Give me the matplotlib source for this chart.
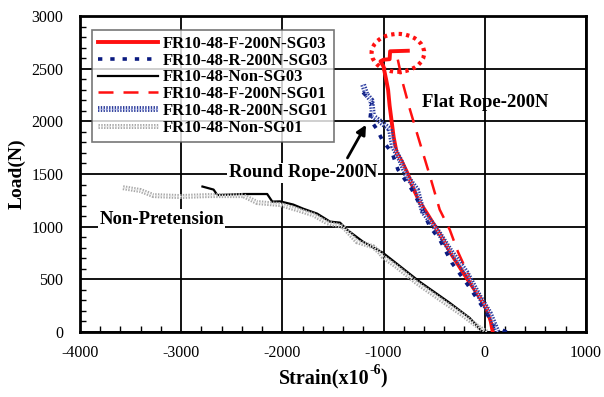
import matplotlib
matplotlib.use("Agg")
import matplotlib.pyplot as plt
import matplotlib.patheffects as pe
from matplotlib.patches import Ellipse
from matplotlib.ticker import MultipleLocator

# ---- data (strain x1e-6, load N) ----
f_sg03_x = [80, 60, 20, -50, -120, -170, -250, -330, -420, -490, -560, -640, -700, -760,
            -820, -870, -900, -920, -940, -955, -975, -990, -1000, -1030, -1000, -940, -935, -760]
f_sg03_y = [0, 100, 220, 330, 430, 500, 620, 740, 890, 1000, 1110, 1230, 1350, 1500,
            1620, 1700, 1850, 2000, 2150, 2300, 2400, 2470, 2520, 2570, 2585, 2590, 2665, 2670]

r_sg03_x = [217, 100, -20, -168, -325, -444, -542, -641, -720, -858, -917, -1006, -1065, -1134, -1114, -1213]
r_sg03_y = [0, 50, 238, 448, 657, 876, 1000, 1210, 1352, 1543, 1705, 1810, 1924, 2020, 2181, 2286]

n_sg03_x = [-20, -148, -345, -641, -1006, -1203, -1361, -1430, -1529, -1657, -1795, -1893, -2022,
            -2100, -2150, -2387, -2643, -2680, -2790]
n_sg03_y = [0, 133, 276, 476, 752, 857, 971, 1038, 1048, 1124, 1171, 1210, 1240,
            1238, 1310, 1310, 1300, 1352, 1381]

f_sg01_x = [80, 60, 20, -50, -120, -170, -265, -345, -445, -540, -660, -740, -820, -840, -860]
f_sg01_y = [0, 100, 220, 330, 430, 562, 762, 970, 1162, 1476, 1857, 2115, 2400, 2500, 2590]

r_sg01_x = [128, 49, -49, -178, -345, -473, -611, -670, -769, -838, -907, -937, -1035, -1104,
            -1120, -1170, -1203]
r_sg01_y = [0, 181, 333, 562, 781, 971, 1143, 1352, 1476, 1638, 1762, 1924, 2000, 2048,
            2200, 2257, 2352]

n_sg01_x = [20, -49, -217, -473, -671, -868, -1006, -1035, -1104, -1262, -1400, -1558, -1696,
            -1854, -2022, -2249, -2387, -2742, -3008, -3274, -3402, -3580]
n_sg01_y = [0, 38, 162, 333, 467, 619, 714, 752, 810, 857, 1000, 1038, 1114,
            1162, 1210, 1229, 1295, 1295, 1286, 1295, 1343, 1371]

labels = ["FR10-48-F-200N-SG03", "FR10-48-R-200N-SG03", "FR10-48-Non-SG03",
          "FR10-48-F-200N-SG01", "FR10-48-R-200N-SG01", "FR10-48-Non-SG01"]

serif = ["Liberation Serif", "DejaVu Serif"]
plt.rcParams["font.family"] = serif
plt.rcParams["axes.unicode_minus"] = False

fig = plt.figure(figsize=(6.04, 3.97), dpi=100)
ax = fig.add_axes([0.1325, 0.1637, 0.8375, 0.7960])

ax.set_xlim(-4000, 1000)
ax.set_ylim(0, 3000)
ax.xaxis.set_major_locator(MultipleLocator(1000))
ax.xaxis.set_minor_locator(MultipleLocator(200))
ax.yaxis.set_major_locator(MultipleLocator(500))
ax.yaxis.set_minor_locator(MultipleLocator(100))
ax.grid(True, which="major", color="black", lw=1.3)
ax.set_axisbelow(True)
ax.tick_params(which="both", direction="in", top=False, right=False, labelsize=11.5)
ax.tick_params(axis="x", which="major", length=0, pad=9)
ax.tick_params(axis="y", which="major", length=0, pad=12)
ax.tick_params(which="minor", length=4, width=1)
for s in ax.spines.values():
    s.set_linewidth(2)

# drawn in legend order (later on top)
ax.plot(f_sg03_x, f_sg03_y, color="#ff1010", lw=2.8, label=labels[0], zorder=3)
ax.plot(r_sg03_x, r_sg03_y, color="#0a1a80", lw=2.6, ls=(0, (1.2, 2.2)),
        label=labels[1], zorder=4)
ax.plot(n_sg03_x, n_sg03_y, color="black", lw=1.6, label=labels[2], zorder=5)
ax.plot(f_sg01_x, f_sg01_y, color="#ff1010", lw=1.8, ls=(0, (6, 4)),
        label=labels[3], zorder=6)
ax.plot(r_sg01_x, r_sg01_y, color="#aab6ee", lw=1.0, ls=(0, (1, 1)),
        path_effects=[pe.Stroke(linewidth=4.2, foreground="#2a3a9a"), pe.Normal()],
        label=labels[4], zorder=7)
ax.plot(n_sg01_x, n_sg01_y, color="#e4e4e4", lw=1.0, ls=(0, (1, 1)),
        path_effects=[pe.Stroke(linewidth=3.6, foreground="#a8a8a8"), pe.Normal()],
        label=labels[5], zorder=8)

# dotted ellipse around the peak
ax.add_patch(Ellipse((-858, 2650), 520, 360, fill=False, edgecolor="#ff1010",
                     lw=3, ls=(0, (0.8, 1.0)), zorder=9))

ax.text(-620, 2180, "Flat Rope-200N", fontsize=13.5, fontweight="bold",
        family=serif, va="center", ha="left", zorder=10)
ax.text(-2530, 1510, "Round Rope-200N", fontsize=13.5, fontweight="bold",
        family=serif, va="center", ha="left", zorder=10,
        bbox=dict(facecolor="white", edgecolor="none", pad=1))
ax.text(-3810, 1070, "Non-Pretension", fontsize=13.5, fontweight="bold",
        family=serif, va="center", ha="left", zorder=10,
        bbox=dict(facecolor="white", edgecolor="none", pad=1))
ax.annotate("", xy=(-1160, 1990), xytext=(-1370, 1630),
            arrowprops=dict(arrowstyle="-|>", color="black", lw=2,
                            mutation_scale=14), zorder=10)

handles, labs = ax.get_legend_handles_labels()
order = [labs.index(l) for l in labels]
leg = ax.legend([handles[i] for i in order], [labs[i] for i in order],
                loc="upper left", bbox_to_anchor=(0.024, 0.956), borderaxespad=0,
                prop=dict(family=serif, weight="bold", size=12),
                frameon=True, fancybox=False, shadow=False, handlelength=3.6,
                labelspacing=0.05, handletextpad=0.3, borderpad=0.35)
leg.get_frame().set_edgecolor("#555555")
leg.get_frame().set_linewidth(1.2)
leg.set_zorder(11)

ax.set_ylabel("Load(N)", fontsize=14, fontweight="bold", family=serif, labelpad=4)

# x label built from pieces so the superscript keeps a plain hyphen
W, H = fig.get_size_inches() * fig.dpi
renderer = fig.canvas.get_renderer()
base_y = 1 - 378 / H
t1 = fig.text(0, base_y, "Strain(x10", fontsize=14.5, fontweight="bold",
              family=serif, va="center", ha="left")
t2 = fig.text(0, base_y + 8 / H, "-6", fontsize=10, fontweight="bold",
              family=serif, va="center", ha="left")
t3 = fig.text(0, base_y, ")", fontsize=14.5, fontweight="bold",
              family=serif, va="center", ha="left")
w1 = t1.get_window_extent(renderer).width
w2 = t2.get_window_extent(renderer).width
w3 = t3.get_window_extent(renderer).width
total = w1 + w2 + w3
ax_bb = ax.get_window_extent(renderer)
x0 = (ax_bb.x0 + ax_bb.x1) / 2 - total / 2
t1.set_x(x0 / W)
t2.set_x((x0 + w1) / W)
t3.set_x((x0 + w1 + w2) / W)

fig.savefig("out.png", dpi=100)
